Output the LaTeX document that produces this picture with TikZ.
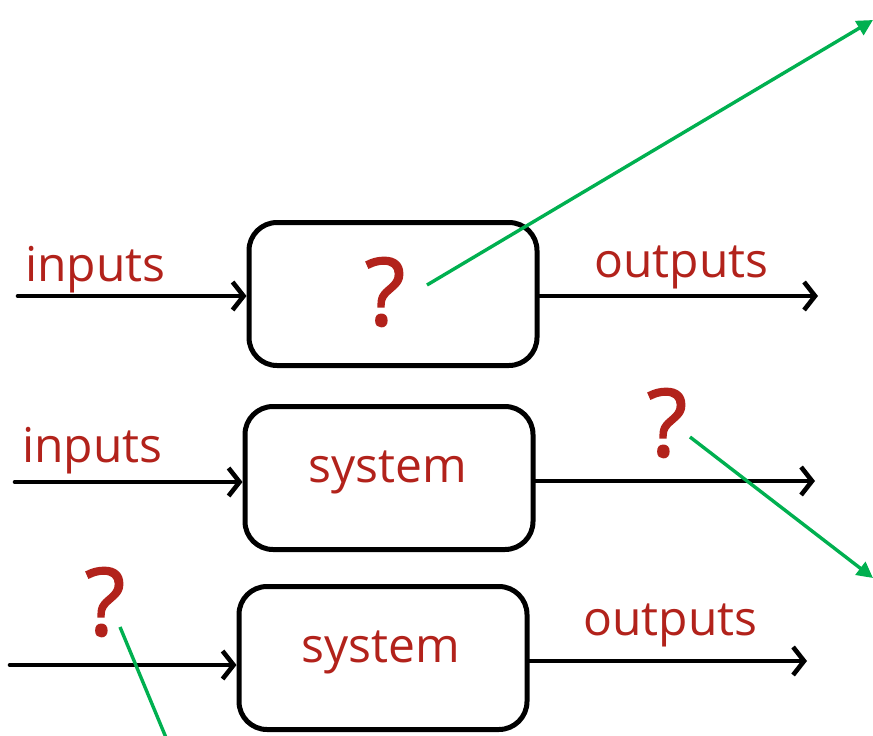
\documentclass[tikz,border=0pt]{standalone}
\usepackage{fontspec}
\setmainfont{Open Sans}
\usetikzlibrary{arrows.meta}
\definecolor{redtxt}{RGB}{178,34,27}
\definecolor{grn}{RGB}{0,176,80}
\tikzset{
  sysbox/.style={draw=black, line width=5pt, rounded corners=28pt, minimum width=288pt, minimum height=143pt, inner sep=0pt},
  blackarr/.style={draw=black, line width=4.6pt, line cap=round, -{Straight Barb[length=11pt,width=28pt,line width=4.6pt]}},
  greenarr/.style={draw=grn, line width=3.4pt, -{Triangle[length=16pt,width=16pt]}},
  greenline/.style={draw=grn, line width=3.4pt},
  lbl/.style={text=redtxt, font=\fontsize{48}{48}\selectfont, inner sep=0pt, anchor=base west},
  qm/.style={text=redtxt, font=\fontsize{94}{94}\selectfont\addfontfeatures{FakeBold=1.5}, inner sep=0pt},
}
\begin{document}
\begin{tikzpicture}[x=1pt,y=-1pt]
\useasboundingbox (0,0) rectangle (873,736);
% boxes
\node[sysbox] (b1) at (393,294) {};
\node[sysbox] (b2) at (389,478) {};
\node[sysbox] (b3) at (383,658) {};
% texts
\node[lbl] (in1) at (25,281) {inputs};
\node[lbl] (out1) at (594,277) {outputs};
\node[qm] (q1) at (385,292) {?};
\node[lbl] (in2) at (22,462) {inputs};
\node[lbl] (sys2) at (308,482) {system};
\node[qm] (q2) at (667,423) {?};
\node[qm] (q3) at (105,602) {?};
\node[lbl] (sys3) at (301,662) {system};
\node[lbl] (out3) at (583,635) {outputs};
% black arrows
\coordinate (s1) at (18,296);
\coordinate (e1) at (818,296);
\coordinate (s2) at (15,482);
\coordinate (e2) at (815,481);
\coordinate (s3) at (10,665);
\coordinate (e3) at (807,661);
\draw[blackarr] (s1) -- (s1 -| b1.west);
\draw[blackarr] (b1.east |- e1) -- (e1);
\draw[blackarr] (s2) -- (s2 -| b2.west);
\draw[blackarr] (b2.east |- e2) -- (e2);
\draw[blackarr] (s3) -- (s3 -| b3.west);
\draw[blackarr] (b3.east |- e3) -- (e3);
% green arrows
\coordinate (g1s) at (427,285);
\coordinate (g1e) at (873,20);
\coordinate (g2s) at (690,437);
\coordinate (g2e) at (873,578);
\coordinate (g3s) at (120,627);
\coordinate (g3e) at (167,740);
\draw[greenarr] (g1s) -- (g1e);
\draw[greenarr] (g2s) -- (g2e);
\draw[greenline] (g3s) -- (g3e);
\end{tikzpicture}
\end{document}
